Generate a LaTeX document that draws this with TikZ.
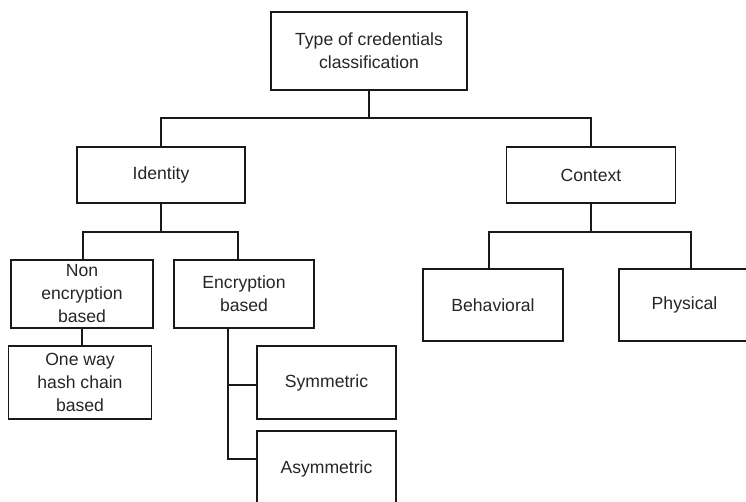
\documentclass[tikz,border=0pt]{standalone}
\usepackage{fontspec}
\setmainfont{Liberation Sans}
\begin{document}
\begin{tikzpicture}[x=1pt,y=-1pt,
  box/.style={draw=black!90, line width=1.3pt, rectangle, inner sep=0pt, align=center,
    font=\fontsize{17.6}{23}\selectfont, text=black!85},
  conn/.style={draw=black!90, line width=1.3pt}]
\useasboundingbox (0,0) rectangle (746,502);
\clip (0,0) rectangle (746,502);
\fill[white] (0,0) rectangle (746,502);
% nodes
\node[box, minimum width=196pt, minimum height=78pt] (top) at (369,51) {Type of credentials\\classification};
\node[box, minimum width=168pt, minimum height=56pt] (ident) at (161,175) {Identity};
\node[box, minimum width=169pt, minimum height=56pt] (ctx) at (591,175) {Context};
\node[box, minimum width=142pt, minimum height=68pt] (nonenc) at (82,294) {Non\\encryption\\based};
\node[box, minimum width=140pt, minimum height=68pt] (encb) at (244,294) {Encryption\\based};
\node[box, minimum width=143pt, minimum height=73pt] (oneway) at (80,382.5) {One way\\hash chain\\based};
\node[box, minimum width=139pt, minimum height=73pt] (sym) at (326.5,382.5) {Symmetric};
\node[box, minimum width=139pt, minimum height=75pt] (asym) at (326.5,468.5) {Asymmetric};
\node[box, minimum width=140pt, minimum height=72pt] (beh) at (493,305) {Behavioral};
\node[box, minimum width=131pt, minimum height=72pt] (phys) at (684.5,305) {Physical};
% connectors
\coordinate (j0) at (369,118);
\draw[conn] (top.south) -- (j0);
\draw[conn] (ident.north) |- (j0) -| (ctx.north);
\coordinate (j1) at (161,232);
\draw[conn] (ident.south) -- (j1);
\draw[conn] ([xshift=1pt]nonenc.north) |- (j1) -| ([xshift=-6pt]encb.north);
\coordinate (j2) at (591,232);
\draw[conn] (ctx.south) -- (j2);
\draw[conn] ([xshift=-4pt]beh.north) |- (j2) -| ([xshift=6.5pt]phys.north);
\draw[conn] (nonenc.south) -- (nonenc.south |- oneway.north);
\coordinate (v) at ([xshift=-16pt]encb.south);
\draw[conn] (v) |- ([yshift=-2.5pt]sym.west);
\draw[conn] (v) |- ([yshift=9.5pt]asym.west);
\end{tikzpicture}
\end{document}
